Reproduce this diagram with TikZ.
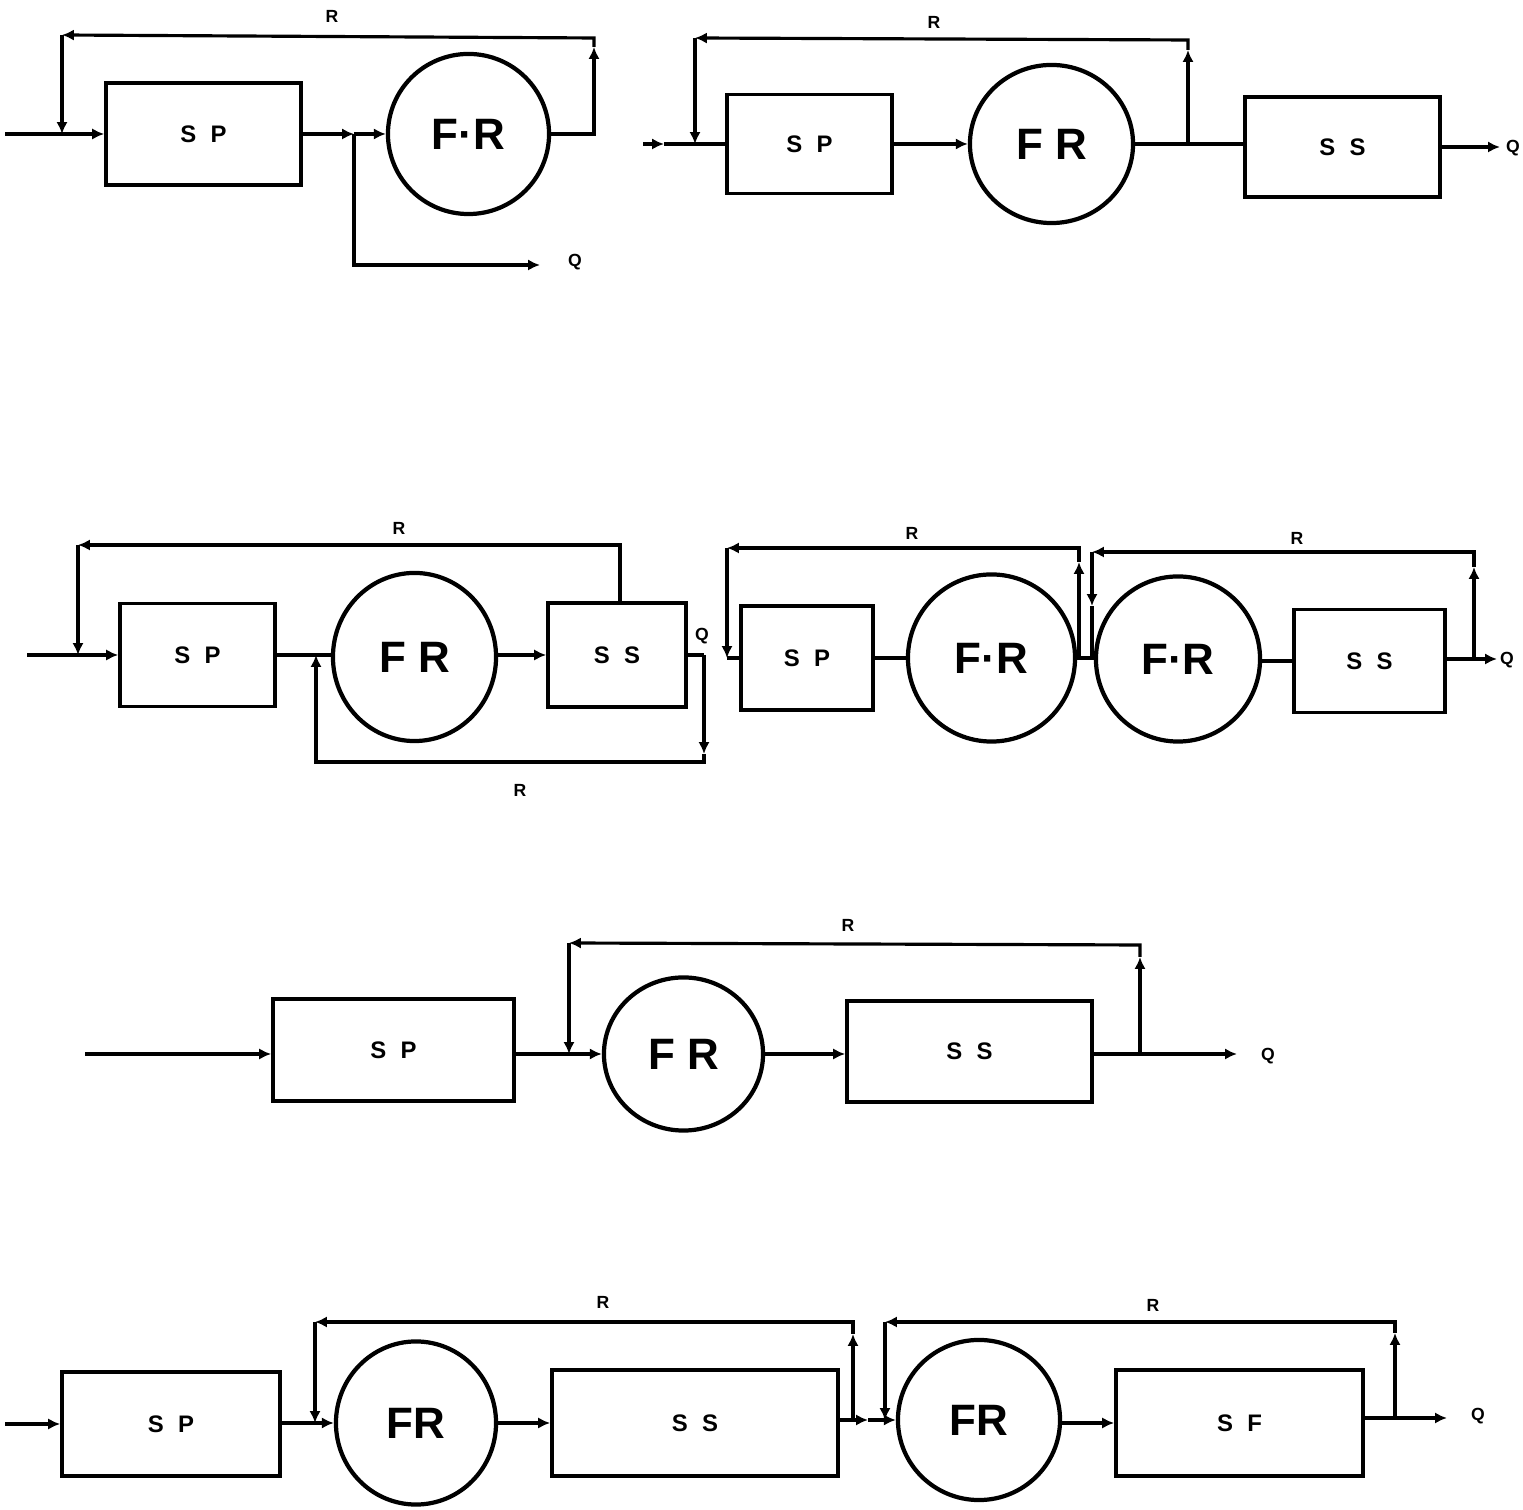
\documentclass[tikz,border=0pt]{standalone}
\usepackage{fontspec}
\setmainfont{Liberation Sans}
\usetikzlibrary{shapes.geometric,arrows.meta}
\tikzset{
  box/.style={draw, line width=1pt, inner sep=0pt, font=\bfseries\fontsize{6.8}{8}\selectfont},
  frc/.style={ellipse, draw, line width=1.2pt, inner sep=0pt, font=\bfseries\fontsize{12.5}{14}\selectfont},
  ln/.style={line width=0.9pt},
  arr/.style={ln, -{Latex[length=3.4pt,width=3.2pt]}},
  lbl/.style={font=\bfseries\fontsize{5}{6}\selectfont, inner sep=0pt}
}
\newcommand{\spc}{\hspace{0.6em}}
\begin{document}
\begin{tikzpicture}[x=0.01cm,y=-0.01cm]
\useasboundingbox (0,0) rectangle (1523,1510);
% ---------------- Diagram 1
\node[box, minimum width=1.95cm, minimum height=1.02cm] (sp1) at (203.5,134) {S\spc P};
\node[frc, minimum width=1.61cm, minimum height=1.60cm] (fr1) at (468.5,134) {F·R};
\coordinate (in1) at (5,134);
\coordinate (j1a) at (62,134);
\coordinate (j1b) at (354,134);
\coordinate (t1a) at (62,35);
\coordinate (t1b) at (594,38);
\coordinate (t1c) at (594,47);
\coordinate (q1) at (540,265);
\draw[arr] (in1) -- (sp1.west);
\draw[arr] (sp1.east) -- (j1b);
\draw[arr] (j1b) -- (fr1.west);
\draw[arr] (fr1.east) -| (t1c);
\draw[arr] (t1c) -- (t1b) -- (t1a);
\draw[arr] (t1a) -- (j1a);
\draw[arr] (j1b) |- (q1);
\node[lbl] (Q1) at (575,262) {Q};
\node[lbl] (R1) at (332,16) {R};
% ---------------- Diagram 2
\node[box, minimum width=1.65cm, minimum height=0.99cm] (sp2) at (809.5,144) {S\spc P};
\node[frc, minimum width=1.63cm, minimum height=1.58cm] (fr2) at (1051.5,144) {F R};
\node[box, minimum width=1.95cm, minimum height=1.00cm] (ss2) at (1342.5,147) {S\spc S};
\coordinate (in2) at (643,144);
\coordinate (a2) at (664,144);
\coordinate (j2a) at (695,144);
\coordinate (t2a) at (695,38);
\coordinate (t2b) at (1188,40);
\coordinate (t2c) at (1188,50);
\coordinate (j2b) at (1188,144);
\coordinate (q2) at (1500,147);
\draw[arr] (in2) -- (a2);
\draw[ln] (a2) -- (sp2.west);
\draw[arr] (sp2.east) -- (fr2.west);
\draw[ln] (fr2.east) -- (j2b) -- (ss2.west |- j2b);
\draw[arr] (j2b) -- (t2c);
\draw[arr] (t2c) -- (t2b) -- (t2a);
\draw[arr] (t2a) -- (j2a);
\draw[arr] (ss2.east) -- (q2);
\node[lbl] (Q2) at (1513,148) {Q};
\node[lbl] (R2) at (934,22) {R};
% ---------------- Diagram 3
\node[box, minimum width=1.55cm, minimum height=1.03cm] (sp3) at (197.5,655) {S\spc P};
\node[frc, minimum width=1.63cm, minimum height=1.68cm] (fr3) at (414.5,657) {F R};
\node[box, minimum width=1.38cm, minimum height=1.04cm] (ss3) at (617,655) {S\spc S};
\coordinate (in3) at (27,655);
\coordinate (j3a) at (78,655);
\coordinate (t3a) at (78,545);
\coordinate (j3b) at (316,655);
\coordinate (o3a) at (704,655);
\coordinate (o3b) at (704,754);
\coordinate (o3c) at (704,762);
\draw[arr] (in3) -- (sp3.west);
\draw[ln] (sp3.east) -- (fr3.west |- sp3.east);
\draw[arr] (fr3.east |- ss3.west) -- (ss3.west);
\draw[arr] ([xshift=0.03cm]ss3.north) |- (t3a);
\draw[arr] (t3a) -- (j3a);
\draw[ln] (ss3.east) -- (o3a);
\draw[arr] (o3a) -- (o3b);
\draw[arr] (o3b) -- (o3c) -| (j3b);
\node[lbl] (Q3) at (702,636) {Q};
\node[lbl] (R3a) at (399,528) {R};
\node[lbl] (R3b) at (520,790) {R};
% ---------------- Diagram 4
\node[box, minimum width=1.32cm, minimum height=1.04cm] (sp4) at (807,658) {S\spc P};
\node[frc, minimum width=1.67cm, minimum height=1.67cm] (fr4a) at (991.5,658) {F·R};
\node[frc, minimum width=1.64cm, minimum height=1.65cm] (fr4b) at (1178,659) {F·R};
\node[box, minimum width=1.51cm, minimum height=1.03cm] (ss4) at (1369.5,661) {S\spc S};
\coordinate (j4a) at (1079,658);
\coordinate (t4c) at (1079,562);
\coordinate (t4b) at (1079,548);
\coordinate (t4a) at (727,548);
\coordinate (d4) at (727,658);
\coordinate (j4b) at (1474,659);
\coordinate (u4c) at (1474,567);
\coordinate (u4b) at (1474,552);
\coordinate (u4a) at (1092,552);
\coordinate (u4d) at (1092,606);
\coordinate (j4c) at (1092,658);
\coordinate (q4) at (1497,659);
\draw[arr] (t4a) -- (d4);
\draw[ln] (d4) -- (sp4.west);
\draw[ln] (sp4.east) -- (fr4a.west);
\draw[ln] (fr4a.east) -- (fr4b.west |- fr4a.east);
\draw[arr] (j4a) -- (t4c);
\draw[arr] (t4c) -- (t4b) -- (t4a);
\draw[ln] (fr4b.east |- ss4.west) -- (ss4.west);
\draw[ln] (ss4.east |- j4b) -- (j4b);
\draw[arr] (j4b) -- (q4);
\draw[arr] (j4b) -- (u4c);
\draw[arr] (u4c) -- (u4b) -- (u4a);
\draw[arr] (u4a) -- (u4d);
\draw[ln] (u4d) -- (j4c);
\node[lbl] (Q4) at (1507,660) {Q};
\node[lbl] (R4a) at (912,533) {R};
\node[lbl] (R4b) at (1297,538) {R};
% ---------------- Diagram 5
\node[box, minimum width=2.41cm, minimum height=1.02cm] (sp5) at (393.5,1050) {S\spc P};
\node[frc, minimum width=1.59cm, minimum height=1.53cm] (fr5) at (683.5,1054) {F R};
\node[box, minimum width=2.45cm, minimum height=1.01cm] (ss5) at (969.5,1051.5) {S\spc S};
\coordinate (in5) at (85,1054);
\coordinate (j5a) at (569,1054);
\coordinate (t5a) at (569,943);
\coordinate (t5b) at (1140,945);
\coordinate (t5c) at (1140,957);
\coordinate (j5b) at (1140,1054);
\coordinate (q5) at (1237,1054);
\draw[arr] (in5) -- (sp5.west |- in5);
\draw[ln] (sp5.east |- j5a) -- (j5a);
\draw[arr] (j5a) -- (fr5.west);
\draw[arr] (fr5.east) -- (ss5.west |- fr5.east);
\draw[ln] (ss5.east |- j5b) -- (j5b);
\draw[arr] (j5b) -- (q5);
\draw[arr] (j5b) -- (t5c);
\draw[arr] (t5c) -- (t5b) -- (t5a);
\draw[arr] (t5a) -- (j5a);
\node[lbl] (Q5) at (1268,1056) {Q};
\node[lbl] (R5) at (848,925) {R};
% ---------------- Diagram 6
\node[box, minimum width=2.18cm, minimum height=1.04cm] (sp6) at (171,1424) {S\spc P};
\node[frc, minimum width=1.60cm, minimum height=1.63cm] (fr6a) at (416,1423) {FR};
\node[box, minimum width=2.86cm, minimum height=1.06cm] (ss6) at (695,1423) {S\spc S};
\node[frc, minimum width=1.62cm, minimum height=1.60cm] (fr6b) at (979,1420) {FR};
\node[box, minimum width=2.47cm, minimum height=1.06cm] (sf6) at (1239.5,1423) {S\spc F};
\coordinate (in6) at (5,1424);
\coordinate (j6a) at (315,1423);
\coordinate (t6a) at (315,1322);
\coordinate (t6b) at (853,1322);
\coordinate (t6c) at (853,1334);
\coordinate (j6b) at (853,1420);
\coordinate (k6) at (868,1420);
\coordinate (j6c) at (885,1420);
\coordinate (u6a) at (885,1322);
\coordinate (u6b) at (1395,1322);
\coordinate (u6c) at (1395,1333);
\coordinate (j6d) at (1395,1418);
\coordinate (q6) at (1447,1418);
\draw[arr] (in6) -- (sp6.west);
\draw[ln] (sp6.east |- j6a) -- (j6a);
\draw[arr] (j6a) -- (fr6a.west);
\draw[arr] (fr6a.east) -- (ss6.west);
\draw[arr] (ss6.east |- j6b) -- (k6);
\draw[ln] (k6) -- (j6c);
\draw[arr] (j6c) -- (fr6b.west);
\draw[arr] (j6b) -- (t6c);
\draw[arr] (t6c) -- (t6b) -- (t6a);
\draw[arr] (t6a) -- (j6a);
\draw[arr] (fr6b.east |- sf6.west) -- (sf6.west);
\draw[ln] (sf6.east |- j6d) -- (j6d);
\draw[arr] (j6d) -- (q6);
\draw[arr] (j6d) -- (u6c);
\draw[arr] (u6c) -- (u6b) -- (u6a);
\draw[arr] (u6a) -- (j6c);
\node[lbl] (Q6) at (1478,1416) {Q};
\node[lbl] (R6a) at (603,1302) {R};
\node[lbl] (R6b) at (1153,1305) {R};
\end{tikzpicture}
\end{document}
